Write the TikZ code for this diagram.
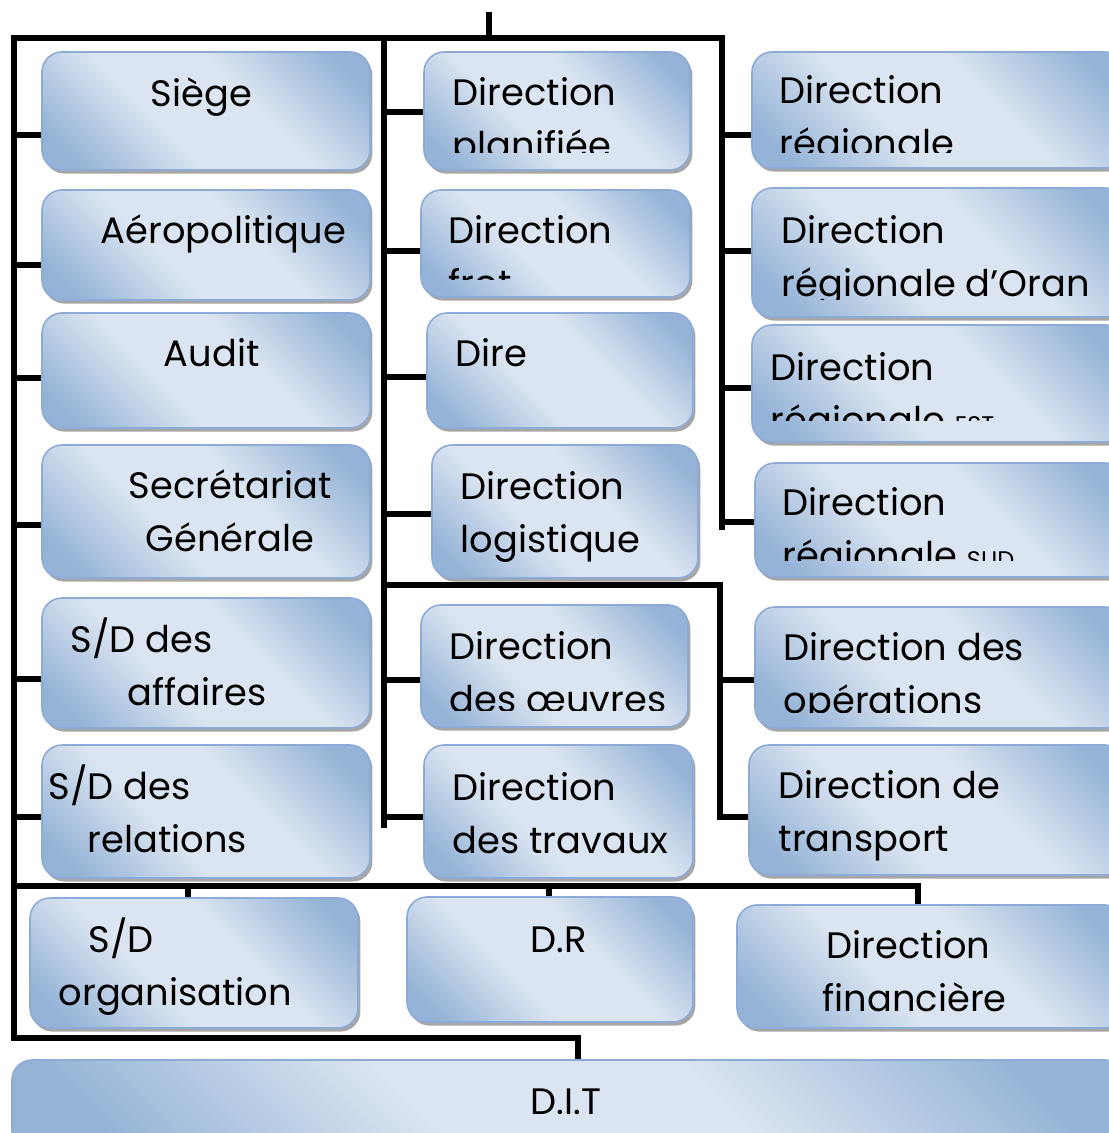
\documentclass[tikz,border=0pt]{standalone}
\usepackage{fontspec}
\setmainfont{Poppins}
\usetikzlibrary{positioning,calc,shadows}
\definecolor{udark}{HTML}{95B3D7}
\definecolor{ulight}{HTML}{DBE5F1}
\definecolor{uedge}{HTML}{8EABD8}
\pgfdeclarehorizontalshading{unitshade}{100bp}{color(0bp)=(udark); color(21bp)=(udark); color(41bp)=(ulight); color(59bp)=(ulight); color(79bp)=(udark); color(100bp)=(udark)}
\newcommand{\unitfont}{\fontsize{18.4}{26.5}\selectfont}

\begin{document}
\begin{tikzpicture}[x=0.5pt, y=-0.5pt,
  unit/.style 2 args={draw=uedge, line width=0.8pt, rounded corners=10pt, shade, shading=unitshade, shading angle=45,
    drop shadow={shadow xshift=1.2pt, shadow yshift=-1.8pt, fill=black!35, opacity=1},
    minimum width=#1*0.5pt, minimum height=#2*0.5pt, inner sep=0pt},
  unittext/.style n args={4}{path picture={
    \clip[sharp corners] (path picture bounding box.north west) rectangle ([yshift=#3*0.5pt]path picture bounding box.south east);
    \node[anchor=north west, inner sep=0pt, minimum size=0pt, draw=none, align=left, font=\unitfont]
      at ([xshift=#1*0.5pt, yshift=18pt-#2*0.5pt]path picture bounding box.north west) {\rule{0pt}{18pt}#4};}},
  bus/.style={line width=3pt, line cap=butt, line join=miter}]
\useasboundingbox (0,0) rectangle (1108,1133);

% left column
\node[unit={328}{118}, unittext={108}{54}{0}{Siège}] (siege) at (206,111) {};
\node[unit={328}{110}, unittext={58}{53}{0}{Aéropolitique}] (aero) at (206,245) {};
\node[unit={328}{115}, unittext={121}{53}{0}{Audit}] (audit) at (206,370.5) {};
\node[unit={328}{133}, unittext={86}{53}{0}{Secrétariat\\\hspace*{8.5pt}Générale}] (secr) at (206,511.5) {};
\node[unit={328}{130}, unittext={28}{54}{0}{S/D des\\\hspace*{28.5pt}affaires}] (sdaff) at (206,663) {};
\node[unit={328}{133}, unittext={6}{54}{0}{S/D des\\\hspace*{19.5pt}relations}] (sdrel) at (206,811.5) {};

% middle column
\node[unit={266}{118}, unittext={28}{53}{17}{Direction\\planifiée}] (plan) at (557,111) {};
\node[unit={269}{107}, unittext={27}{53}{17}{Direction\\frot}] (frot) at (555.5,243.5) {};
\node[unit={266}{115}, unittext={28}{53}{0}{Dire}] (dire) at (560,370.5) {};
\node[unit={266}{133}, unittext={28}{54}{0}{Direction\\logistique}] (logi) at (565,511.5) {};
\node[unit={267}{122}, unittext={28}{54}{17}{Direction\\des œuvres}] (oeuv) at (554.5,666) {};
\node[unit={269}{133}, unittext={28}{55}{0}{Direction\\des travaux}] (trav) at (558.5,811.5) {};

% right column
\node[unit={373}{116}, unittext={27}{51}{15}{Direction\\régionale}] (reg) at (938.5,110) {};
\node[unit={373}{129}, unittext={29}{55}{17}{Direction\\régionale d’Oran}] (oran) at (938.5,252.5) {};
\node[unit={373}{117}, unittext={18}{55}{22}{Direction\\régionale {\fontsize{12}{12}\selectfont EST}}] (est) at (938.5,383.5) {};
\node[unit={370}{114}, unittext={27}{52}{17}{Direction\\régionale {\fontsize{12}{12}\selectfont SUD}}] (sud) at (940,520) {};
\node[unit={370}{121}, unittext={28}{53}{16}{Direction des\\opérations}] (oper) at (940,667.5) {};
\node[unit={376}{130}, unittext={29}{53}{0}{Direction de\\transport}] (trans) at (937,810) {};

% bottom rows
\node[unit={328}{130}, unittext={28}{54}{0}{\hspace*{15pt}S/D\\organisation}] (sdorg) at (194,963) {};
\node[unit={286}{125}, unittext={123}{55}{0}{D.R}] (dr) at (550,959.5) {};
\node[unit={388}{123}, unittext={85}{53}{0}{\hspace*{2pt}Direction\\financière}] (fin) at (931,966.5) {};
\node[unit={1113}{90}, unittext={518}{54}{0}{D.I.T}] (dit) at (568.5,1105) {};

% connectors
\coordinate (root) at (489,12);
\coordinate (ltop) at (14,38);
\coordinate (mtop) at (384,38);
\coordinate (rtop) at (722,38);
\coordinate (lend) at (14,1038);
\coordinate (mend) at (384,828);
\coordinate (rend) at (722,530);
\coordinate (obus) at (720,585);
\coordinate (bbus) at (14,886);

\draw[bus] (root) -- (root |- ltop);
\draw[bus] (rend) -- (rtop) -- (ltop) -- (lend) -| (dit.north -| 578,0);
\draw[bus] (mtop) -- (mend);
\foreach \n/\y in {siege/135, aero/265, audit/378, secr/525, sdaff/679, sdrel/817}
  \draw[bus] (ltop |- 0,\y) -- (\n.west |- 0,\y);
\foreach \n/\y in {plan/112, frot/251, dire/377, logi/514, oeuv/680, trav/817}
  \draw[bus] (mtop |- 0,\y) -- (\n.west |- 0,\y);
\foreach \n/\y in {reg/135, oran/251, est/388, sud/522}
  \draw[bus] (rtop |- 0,\y) -- (\n.west |- 0,\y);
\draw[bus] (mtop |- obus) -- (obus) -- (obus |- 0,817) -- (trans.west |- 0,817);
\draw[bus] (obus |- 0,680) -- (oper.west |- 0,680);
\draw[bus] (bbus) -| (fin.north -| 918,0);
\foreach \n/\x in {sdorg/188, dr/549}
  \draw[bus] (bbus -| \x,0) -- (\n.north -| \x,0);
\end{tikzpicture}
\end{document}
